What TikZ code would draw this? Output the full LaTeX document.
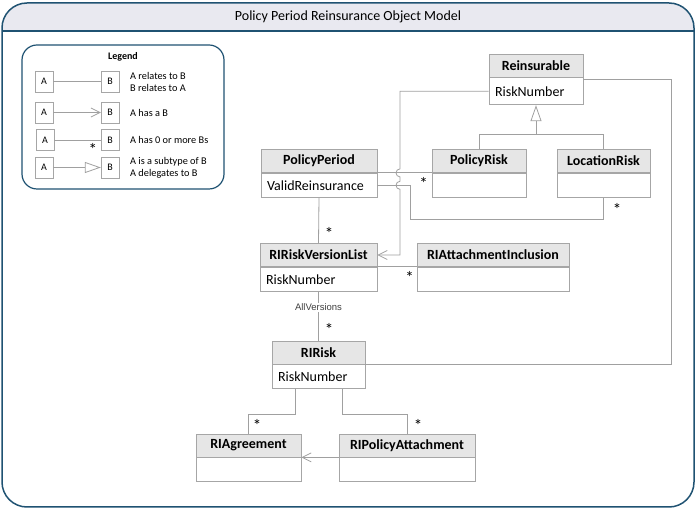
\documentclass[tikz,border=0pt]{standalone}
\usepackage{fontspec}
\setmainfont{Carlito}
\newfontfamily\labelfont{Liberation Sans}
\usetikzlibrary{positioning,calc,arrows.meta}
\definecolor{framecol}{HTML}{1F5272}
\definecolor{titlefill}{HTML}{E9E9F0}
\definecolor{boxline}{HTML}{A6A6A6}
\definecolor{headfill}{HTML}{E6E6E6}
\definecolor{linkcol}{HTML}{A0A0A0}

\begin{document}
\begin{tikzpicture}[x=1pt,y=-1pt,>={Straight Barb[length=9pt,width=9pt]},
  cls/.style={draw=boxline,fill=headfill,line width=0.8pt,minimum width=#1,minimum height=23pt,inner sep=0pt,font=\fontsize{14}{16}\selectfont\bfseries},
  attr/.style={draw=boxline,fill=white,line width=0.8pt,text width=#1,minimum height=24pt,inner xsep=6pt,inner ysep=0pt,align=left,font=\fontsize{14}{16}\selectfont},
  assoc/.style={draw=linkcol,line width=0.8pt},
  mult/.style={font=\fontsize{17}{19}\selectfont,inner sep=0pt},
  lbox/.style={draw=boxline,minimum width=18pt,minimum height=21pt,inner sep=0pt,font=\fontsize{10}{12}\selectfont},
  ltext/.style={anchor=west,align=left,font=\fontsize{10.3}{12}\selectfont,inner sep=0pt}]

  \useasboundingbox (0,0) rectangle (697,510);

  % frame and title bar
  \begin{scope}
    \clip[rounded corners=25pt] (2,3) rectangle (694,507);
    \fill[titlefill] (2,3) rectangle (694,31);
  \end{scope}
  \draw[framecol,line width=1.2pt] (2,31) -- (694,31);
  \draw[framecol,line width=1.5pt,rounded corners=25pt] (2,3) rectangle (694,507);
  \node[font=\fontsize{14}{16}\selectfont] (title) at (348,17) {Policy Period Reinsurance Object Model};

  % legend
  \draw[framecol,line width=1.2pt,rounded corners=15pt] (22,45) rectangle (224,189);
  \node[font=\fontsize{10}{12}\selectfont\bfseries] (legend) at (123,57) {Legend};

  \node[lbox] (la1) at (44,81.5) {A};
  \node[lbox] (lb1) at (110,81.5) {B};
  \node[ltext] (lt1) at (130,82) {A relates to B\\B relates to A};
  \draw[assoc] (la1) -- (lb1);

  \node[lbox] (la2) at (44,112.5) {A};
  \node[lbox] (lb2) at (110,112.5) {B};
  \node[ltext] (lt2) at (130,113) {A has a B};
  \draw[assoc,->] (la2) -- (lb2);

  \node[lbox] (la3) at (45,140) {A};
  \node[lbox] (lb3) at (110,140) {B};
  \node[ltext] (lt3) at (130,140) {A has 0 or more Bs};
  \draw[assoc] (la3) -- (lb3);
  \node[mult] (ls3) at ($(lb3.west)+(-8,9)$) {*};

  \node[lbox] (la4) at (44,167.5) {A};
  \node[lbox] (lb4) at (110,167.5) {B};
  \node[ltext] (lt4) at (130,167.5) {A is a subtype of B\\A delegates to B};
  \draw[assoc,-{Triangle[open,length=16pt,width=11pt]}] (la4) -- (lb4);

  % classes
  \node[cls=94pt] (reins) at (536,65.5) {Reinsurable};
  \node[attr=82pt,minimum height=27pt,below=0pt of reins] (reinsb) {RiskNumber};

  \node[cls=116pt] (pp) at (319,161) {PolicyPeriod};
  \node[attr=104pt,below=0pt of pp] (ppb) {ValidReinsurance};

  \node[cls=94pt] (pr) at (479,161) {PolicyRisk};
  \node[attr=82pt,below=0pt of pr] (prb) {};

  \node[cls=93pt] (lr) at (603.5,161) {LocationRisk};
  \node[attr=81pt,below=0pt of lr] (lrb) {};

  \node[cls=117pt] (rirvl) at (318.5,255) {RIRiskVersionList};
  \node[attr=105pt,below=0pt of rirvl] (rirvlb) {RiskNumber};

  \node[cls=152pt] (riai) at (493,255) {RIAttachmentInclusion};
  \node[attr=140pt,below=0pt of riai] (riaib) {};

  \node[cls=93pt] (rir) at (318.5,352.5) {RIRisk};
  \node[attr=81pt,below=0pt of rir] (rirb) {RiskNumber};

  \node[cls=105pt] (ria) at (248.5,445.5) {RIAgreement};
  \node[attr=93pt,below=0pt of ria] (riab) {};

  \node[cls=136pt] (ripa) at (407,445.5) {RIPolicyAttachment};
  \node[attr=124pt,below=0pt of ripa] (ripab) {};

  % connectors
  \coordinate (gen) at ($(reinsb.south)+(0,29)$);
  \draw[assoc] (pr.north) |- (gen) -| (lr.north);
  \draw[assoc,-{Triangle[open,length=16pt,width=11pt]}] (gen) -- (reinsb.south);

  \coordinate (rside) at (671,0);
  \draw[assoc] ($(reinsb.north east)+(0,2)$) -| (rside |- rir.south east) -- (rir.south east);

  \draw[assoc] (pp.south east) -- (pr.south west);
  \node[mult] (s1) at ($(pr.south west)+(-8,11)$) {*};

  \draw[assoc] (ppb.east) -- ++(33,0) |- ($(lrb.south)+(0,22)$) -- (lrb.south);
  \node[mult] (s2) at ($(lrb.south)+(13.5,12)$) {*};

  \coordinate (hopx) at (400,0);
  \draw[assoc,->] (reinsb.west) -| ($(hopx |- pp.south east)+(0,-4)$)
    arc[start angle=270,end angle=90,radius=4]
    -- ($(hopx |- ppb.east)+(0,-4)$)
    arc[start angle=270,end angle=90,radius=4]
    |- (rirvl.east);

  \draw[assoc] (ppb.south) -- (rirvl.north);
  \node[mult] (s3) at ($(rirvl.north)+(10.5,-10)$) {*};

  \draw[assoc] (rirvl.south east) -- (riai.south west);
  \node[mult] (s4) at ($(riai.south west)+(-7,11)$) {*};

  \draw[assoc] (rirvlb.south) -- node[pos=0.32,fill=white,inner sep=1pt,text=black!75,font=\labelfont\fontsize{9.5}{11}\selectfont] (allv) {AllVersions} (rir.north);
  \node[mult] (s5) at ($(rir.north)+(10.5,-11)$) {*};

  \draw[assoc] ($(rirb.south west)+(24,0)$) -- ++(0,25) -| (ria.north);
  \node[mult] (s6) at ($(ria.north)+(8.5,-8)$) {*};

  \draw[assoc] ($(rirb.south east)+(-23,0)$) -- ++(0,25) -| (ripa.north);
  \node[mult] (s7) at ($(ripa.north)+(11,-8)$) {*};

  \draw[assoc,->] (ripa.south west) -- (ria.south east);
\end{tikzpicture}
\end{document}
